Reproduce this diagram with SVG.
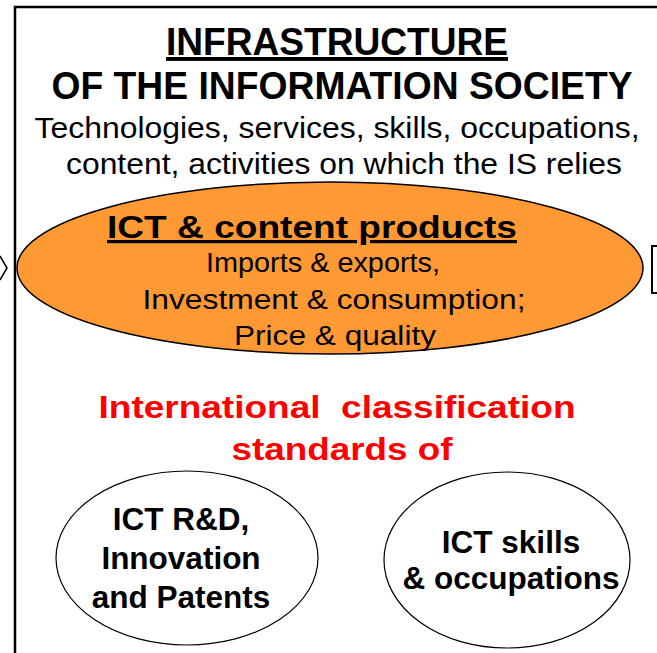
<svg xmlns="http://www.w3.org/2000/svg" width="657" height="653" viewBox="0 0 657 653">
<style>
text{font-family:"Liberation Sans",Arial,sans-serif;text-anchor:middle;fill:#000}
.b{font-weight:bold}
.red{fill:#FF0000;font-weight:bold;font-size:32px;white-space:pre}
.sub{font-size:30px}
.ins{font-size:27px}
.node{font-weight:bold;font-size:31.5px}
</style>
<rect width="657" height="653" fill="#fff"/>
<g id="frame">
<rect x="15" y="7" width="720" height="720" fill="none" stroke="#000" stroke-width="2.5"/>
</g>
<g id="title">
<text class="b" x="337" y="55" font-size="39" textLength="342" lengthAdjust="spacingAndGlyphs" text-decoration="underline">INFRASTRUCTURE</text>
<text class="b" x="342" y="99" font-size="39" textLength="581" lengthAdjust="spacingAndGlyphs">OF THE INFORMATION SOCIETY</text>
<text class="sub" x="337" y="138" textLength="605" lengthAdjust="spacingAndGlyphs">Technologies, services, skills, occupations,</text>
<text class="sub" x="344" y="174" textLength="556" lengthAdjust="spacingAndGlyphs">content, activities on which the IS relies</text>
</g>
<g id="products">
<ellipse cx="330" cy="268" rx="313" ry="86" fill="#FF9933" stroke="#000" stroke-width="1.5"/>
<text class="b" x="312" y="238" font-size="32" textLength="410" lengthAdjust="spacingAndGlyphs" text-decoration="underline">ICT &amp; content products</text>
<text class="ins" x="323" y="272" textLength="234" lengthAdjust="spacingAndGlyphs">Imports &amp; exports,</text>
<text class="ins" x="334" y="309" textLength="383" lengthAdjust="spacingAndGlyphs">Investment &amp; consumption;</text>
<text class="ins" x="335" y="345" textLength="202" lengthAdjust="spacingAndGlyphs">Price &amp; quality</text>
</g>
<g id="standards">
<text class="red" x="337" y="418" textLength="477" lengthAdjust="spacingAndGlyphs" xml:space="preserve">International  classification</text>
<text class="red" x="342" y="460" textLength="221" lengthAdjust="spacingAndGlyphs">standards of</text>
</g>
<g id="rd">
<ellipse cx="187" cy="558" rx="131" ry="87" fill="#fff" stroke="#000" stroke-width="1.2"/>
<text class="node" x="181" y="530">ICT R&amp;D,</text>
<text class="node" x="181" y="569">Innovation</text>
<text class="node" x="181" y="608">and Patents</text>
</g>
<g id="skills">
<ellipse cx="507" cy="560" rx="123" ry="88" fill="#fff" stroke="#000" stroke-width="1.2"/>
<text class="node" x="511" y="553">ICT skills</text>
<text class="node" x="511" y="589">&amp; occupations</text>
</g>
<g id="connectors" fill="none" stroke="#000" stroke-width="1.5">
<polyline points="0,256 7,268 0,280"/>
<path d="M 662 246 H 652 V 293 H 662" stroke-width="2"/>
</g>
</svg>
